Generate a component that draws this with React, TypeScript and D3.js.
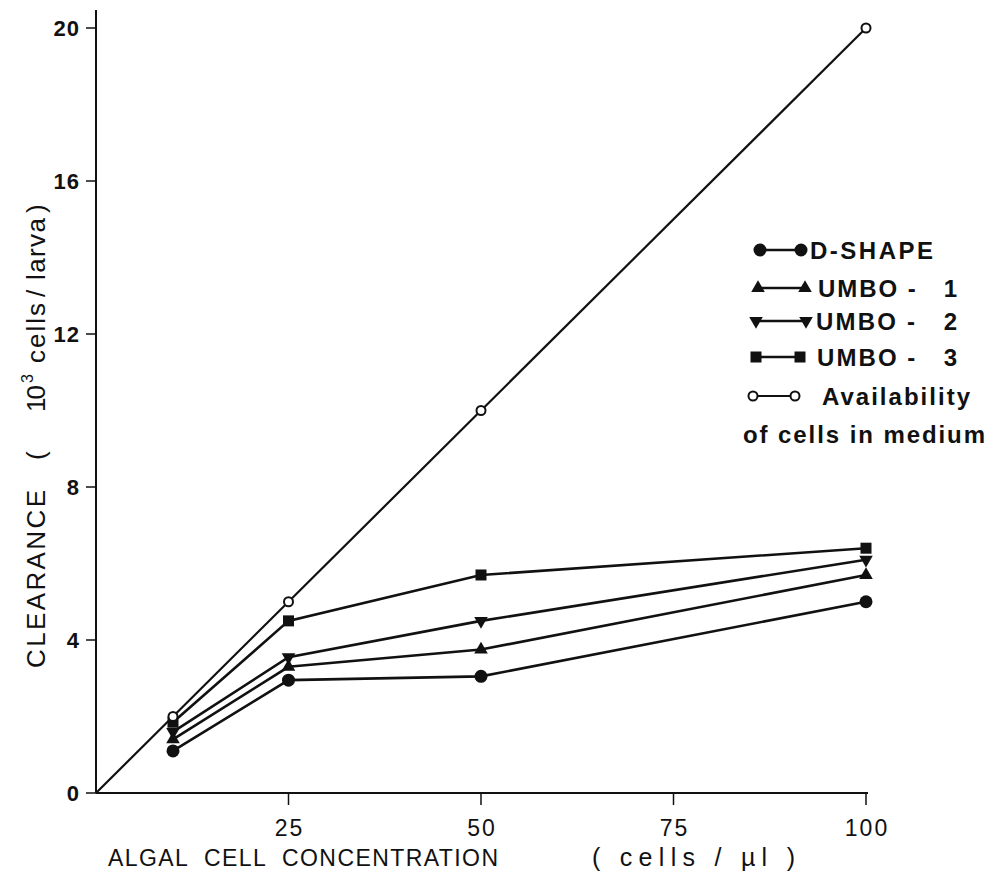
import React from "react";
import * as d3 from "d3";

const xValues = [10, 25, 50, 100];
const availability = [2, 5, 10, 20];
const dShape = [1.1, 2.95, 3.05, 5.0];
const umbo1 = [1.4, 3.3, 3.75, 5.7];
const umbo2 = [1.6, 3.55, 4.5, 6.1];
const umbo3 = [1.85, 4.5, 5.7, 6.4];
const xTicks = [25, 50, 75, 100];
const yTicks = [0, 4, 8, 12, 16, 20];

const seriesList = [
  { name: "D-SHAPE", values: dShape, marker: "circle" },
  { name: "UMBO -   1", values: umbo1, marker: "triangle" },
  { name: "UMBO -   2", values: umbo2, marker: "triangleDown" },
  { name: "UMBO -   3", values: umbo3, marker: "square" },
];

const FONT = "'Liberation Sans', Arial, sans-serif";

function Marker({ type, x, y }: { type: string; x: number; y: number }) {
  if (type === "circle") return <circle cx={x} cy={y} r={6.5} fill="#111" />;
  if (type === "open") return <circle cx={x} cy={y} r={4.5} fill="#fff" stroke="#111" strokeWidth={2} />;
  if (type === "square") return <rect x={x - 5.5} y={y - 5.5} width={11} height={11} fill="#111" />;
  const sym = d3.symbol().type(d3.symbolTriangle).size(80)();
  const rot = type === "triangleDown" ? 180 : 0;
  return <path d={sym || ""} transform={`translate(${x},${y}) rotate(${rot})`} fill="#111" />;
}

// pieces of the rotated y-axis title: [text, start y (bottom), length, fontSize]
const yTitleParts: [string, number, number, number][] = [
  ["CLEARANCE", 668, 178, 26],
  ["(", 460, 8, 26],
  ["10", 412, 27, 26],
  ["3", 383, 9, 16],
  ["cells", 363, 60, 26],
  ["/", 297, 12, 26],
  ["larva", 280, 62, 26],
  [")", 213, 8, 26],
];

export default function App() {
  const x = d3.scaleLinear().domain([0, 100]).range([96, 866]);
  const y = d3.scaleLinear().domain([0, 20]).range([793, 28]);
  const line = d3
    .line<[number, number]>()
    .x((d) => x(d[0]))
    .y((d) => y(d[1]));

  const availPts: [number, number][] = [[0, 0], ...xValues.map((v, i) => [v, availability[i]] as [number, number])];

  const legendRows = [250, 288, 321, 357];
  const legendX0 = [760, 758, 756, 756];
  const legendX1 = [801, 805, 806, 800];
  const textX = [810, 818, 816, 817];
  const textLen = [123, 139, 141, 140];
  return (
    <svg width={1000} height={880} style={{ position: "absolute", left: 0, top: 0, background: "#fff" }}>
      <rect width={1000} height={880} fill="#fff" />
      {/* axes */}
      <line x1={x(0)} y1={10} x2={x(0)} y2={y(0)} stroke="#111" strokeWidth={2} />
      <line x1={x(0)} y1={y(0)} x2={x(100) + 2} y2={y(0)} stroke="#111" strokeWidth={2} />
      {yTicks.map((t) => (
        <g key={"y" + t}>
          <line x1={x(0) - 10} x2={x(0)} y1={y(t)} y2={y(t)} stroke="#111" strokeWidth={1.5} />
          <text x={x(0) - 16} y={y(t) + 8} textAnchor="end" fontFamily={FONT} fontWeight="bold" fontSize={22} fill="#111" letterSpacing={1}>
            {t}
          </text>
        </g>
      ))}
      {xTicks.map((t) => (
        <g key={"x" + t}>
          <line x1={x(t)} x2={x(t)} y1={y(0)} y2={y(0) + 12} stroke="#111" strokeWidth={1.5} />
          <text x={x(t) + 1} y={836} textAnchor="middle" fontFamily={FONT} fontSize={23} fill="#111" letterSpacing={2}>
            {t}
          </text>
        </g>
      ))}
      <text x={108} y={866} fontFamily={FONT} fontSize={23} fill="#111" textLength={390} lengthAdjust="spacing" style={{ whiteSpace: "pre" }}>
        {"ALGAL  CELL  CONCENTRATION"}
      </text>
      <text x={592} y={866} fontFamily={FONT} fontSize={25} fill="#111" textLength={203} lengthAdjust="spacing" style={{ whiteSpace: "pre" }}>
        {"( cells / µl )"}
      </text>
      {yTitleParts.map(([t, y0, len, fs], i) => (
        <text
          key={"yt" + i}
          transform={`translate(${fs < 20 ? 33 : 45}, ${y0}) rotate(-90)`}
          fontFamily={FONT}
          fontSize={fs}
          fill="#111"
          textLength={len}
          lengthAdjust="spacing"
        >
          {t}
        </text>
      ))}

      {/* availability line */}
      <path d={line(availPts) || ""} fill="none" stroke="#111" strokeWidth={2.2} />
      {seriesList.map((s) => (
        <path
          key={s.name}
          d={line(xValues.map((v, i) => [v, s.values[i]] as [number, number])) || ""}
          fill="none"
          stroke="#111"
          strokeWidth={2.6}
        />
      ))}
      {seriesList.map((s) =>
        xValues.map((v, i) => <Marker key={s.name + i} type={s.marker} x={x(v)} y={y(s.values[i])} />)
      )}
      {xValues.map((v, i) => (
        <Marker key={"a" + i} type="open" x={x(v)} y={y(availability[i])} />
      ))}

      {/* legend */}
      {seriesList.map((s, i) => (
        <g key={"lg" + s.name}>
          <line x1={legendX0[i]} x2={legendX1[i]} y1={legendRows[i]} y2={legendRows[i]} stroke="#111" strokeWidth={2.5} />
          <Marker type={s.marker} x={legendX0[i]} y={legendRows[i]} />
          <Marker type={s.marker} x={legendX1[i]} y={legendRows[i]} />
          <text
            x={textX[i]}
            y={legendRows[i] + 9}
            fontFamily={FONT}
            fontWeight="bold"
            fontSize={24}
            fill="#111"
            textLength={textLen[i]}
            lengthAdjust="spacing"
            style={{ whiteSpace: "pre" }}
          >
            {s.name}
          </text>
        </g>
      ))}
      <g>
        <line x1={753} x2={795} y1={396} y2={396} stroke="#111" strokeWidth={2} />
        <Marker type="open" x={753} y={396} />
        <Marker type="open" x={795} y={396} />
        <text x={822} y={405} fontFamily={FONT} fontWeight="bold" fontSize={24} fill="#111" textLength={148} lengthAdjust="spacing">
          Availability
        </text>
        <text x={743} y={443} fontFamily={FONT} fontWeight="bold" fontSize={24} fill="#111" textLength={242} lengthAdjust="spacing">
          of cells in medium
        </text>
      </g>
    </svg>
  );
}
